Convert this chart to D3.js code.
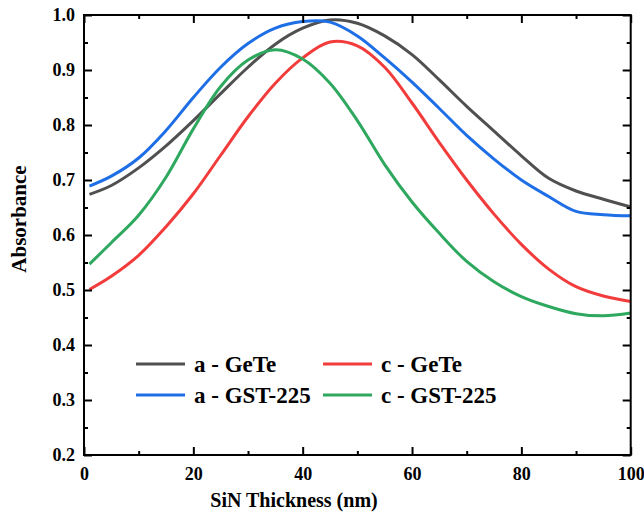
<!DOCTYPE html>
<html>
<head>
<meta charset="utf-8">
<script src="https://cdn.jsdelivr.net/npm/d3@7"></script>
<style>
  html, body { margin: 0; padding: 0; background: #fff; }
  svg { display: block; }
  text { font-family: "Liberation Serif", "Times New Roman", serif; font-weight: bold; fill: #000; }
</style>
</head>
<body>
<svg id="chart" width="644" height="521"></svg>
<script>
// ---- data ----
const thickness = [1, 5, 10, 15, 20, 25, 30, 35, 40, 45, 50, 55, 60, 65, 70, 75, 80, 85, 90, 95, 100];
const aGeTe   = [0.674, 0.690, 0.722, 0.762, 0.808, 0.857, 0.905, 0.947, 0.976, 0.991, 0.985, 0.962, 0.928, 0.882, 0.834, 0.789, 0.744, 0.703, 0.680, 0.665, 0.651];
const cGeTe   = [0.501, 0.525, 0.563, 0.615, 0.675, 0.745, 0.815, 0.876, 0.922, 0.951, 0.944, 0.905, 0.840, 0.768, 0.700, 0.638, 0.583, 0.538, 0.506, 0.489, 0.479];
const aGST225 = [0.689, 0.707, 0.740, 0.790, 0.850, 0.905, 0.948, 0.976, 0.988, 0.987, 0.962, 0.922, 0.878, 0.830, 0.781, 0.738, 0.700, 0.670, 0.643, 0.637, 0.635];
const cGST225 = [0.547, 0.586, 0.636, 0.705, 0.793, 0.870, 0.918, 0.937, 0.920, 0.876, 0.808, 0.728, 0.660, 0.603, 0.552, 0.515, 0.488, 0.470, 0.457, 0.453, 0.458];
const seriesNames = ["a - GeTe", "c - GeTe", "a - GST-225", "c - GST-225"];
const seriesColors = ["#505050", "#F23C3C", "#1E6EE6", "#2EA85E"];
const xTicks = [0, 20, 40, 60, 80, 100];
const yTicks = [0.2, 0.3, 0.4, 0.5, 0.6, 0.7, 0.8, 0.9, 1.0];
const xTitle = "SiN Thickness (nm)";
const yTitle = "Absorbance";

const seriesValues = [aGeTe, cGeTe, aGST225, cGST225];

// ---- layout ----
const svg = d3.select("#chart");
const L = 84, T = 15, R = 630.7, B = 455;
const x = d3.scaleLinear().domain([0, 100]).range([L, R]);
const y = d3.scaleLinear().domain([0.2, 1.0]).range([B, T]);

const xMinor = d3.range(0, 101, 10).filter(v => v % 20 !== 0);
const yMinor = d3.range(0.25, 1.0, 0.1);

// lines
const line = d3.line().x(d => x(d[0])).y(d => y(d[1])).curve(d3.curveCatmullRom.alpha(0.5));
seriesValues.forEach((vals, i) => {
  svg.append("path")
    .datum(thickness.map((t, j) => [t, vals[j]]))
    .attr("fill", "none")
    .attr("stroke", seriesColors[i])
    .attr("stroke-width", 3)
    .attr("stroke-linejoin", "round")
    .attr("d", line);
});

// axes (ticks inward)
function styleAxis(g) {
  g.select(".domain").remove();
  g.selectAll(".tick line").attr("stroke", "#000").attr("stroke-width", 2);
  g.selectAll("text").style("font-size", "18px").style("font-family", '"Liberation Serif", serif').style("font-weight", "bold");
}
// bottom
svg.append("g").attr("transform", `translate(0,${B})`)
  .call(d3.axisBottom(x).tickValues(xTicks).tickFormat(d3.format("d")).tickSizeInner(-8).tickSizeOuter(0).tickPadding(12))
  .call(styleAxis);
svg.append("g").attr("transform", `translate(0,${B})`)
  .call(d3.axisBottom(x).tickValues(xMinor).tickFormat("").tickSizeInner(-4).tickSizeOuter(0)).call(styleAxis);
// top
svg.append("g").attr("transform", `translate(0,${T})`)
  .call(d3.axisTop(x).tickValues(xTicks).tickFormat("").tickSizeInner(-8).tickSizeOuter(0)).call(styleAxis);
svg.append("g").attr("transform", `translate(0,${T})`)
  .call(d3.axisTop(x).tickValues(xMinor).tickFormat("").tickSizeInner(-4).tickSizeOuter(0)).call(styleAxis);
// left
svg.append("g").attr("transform", `translate(${L},0)`)
  .call(d3.axisLeft(y).tickValues(yTicks).tickFormat(d3.format(".1f")).tickSizeInner(-8).tickSizeOuter(0).tickPadding(9))
  .call(styleAxis);
svg.append("g").attr("transform", `translate(${L},0)`)
  .call(d3.axisLeft(y).tickValues(yMinor).tickFormat("").tickSizeInner(-4).tickSizeOuter(0)).call(styleAxis);
// right
svg.append("g").attr("transform", `translate(${R},0)`)
  .call(d3.axisRight(y).tickValues(yTicks).tickFormat("").tickSizeInner(-8).tickSizeOuter(0)).call(styleAxis);
svg.append("g").attr("transform", `translate(${R},0)`)
  .call(d3.axisRight(y).tickValues(yMinor).tickFormat("").tickSizeInner(-4).tickSizeOuter(0)).call(styleAxis);

// frame
svg.append("rect").attr("x", L).attr("y", T).attr("width", R - L).attr("height", B - T)
  .attr("fill", "none").attr("stroke", "#000").attr("stroke-width", 2);

// titles
svg.append("text").attr("x", 294).attr("y", 507)
  .attr("text-anchor", "middle").style("font-size", "20px").text(xTitle);
svg.append("text").attr("transform", `translate(26,219) rotate(-90)`)
  .attr("text-anchor", "middle").style("font-size", "21px").text(yTitle);

// legend
const legPos = [[136, 364], [323, 364], [136, 395], [323, 395]];
seriesNames.forEach((name, i) => {
  const [lx, ly] = legPos[i];
  svg.append("line").attr("x1", lx).attr("x2", lx + 49).attr("y1", ly).attr("y2", ly)
    .attr("stroke", seriesColors[i]).attr("stroke-width", 3);
  svg.append("text").attr("x", lx + 58).attr("y", ly).attr("dy", "0.35em")
    .style("font-size", "23px").text(name);
});
</script>
</body>
</html>
